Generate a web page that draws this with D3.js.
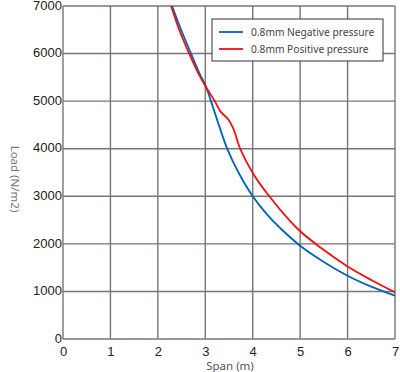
<!DOCTYPE html>
<html>
<head>
<meta charset="utf-8">
<script src="https://cdn.jsdelivr.net/npm/d3@7"></script>
<style>
  body { margin: 0; background: #fff; }
  .tick text { font-family: "Liberation Sans Narrow", "Liberation Sans", Arial, sans-serif; font-stretch: condensed; font-size: 13px; fill: #222; }
  .legend text { font-family: "Noto Sans", sans-serif; font-size: 10.2px; fill: #444; }
</style>
</head>
<body>
<div id="chart"></div>
<script>
// tick values
var xTicks = [0, 1, 2, 3, 4, 5, 6, 7];
var yTicks = [0, 1000, 2000, 3000, 4000, 5000, 6000, 7000];

// 0.8mm negative pressure (blue)
var negSpan = [2.30, 2.49, 2.70, 2.88, 3.02, 3.12, 3.47, 3.70, 4.00, 4.30, 4.60, 5.00, 5.50, 6.00, 6.50, 7.00];
var negLoad = [7000, 6500, 6000, 5580, 5290, 5000, 3980, 3500, 3000, 2620, 2312, 1961, 1620, 1331, 1100, 910];

// 0.8mm positive pressure (red)
var posSpan = [2.28, 2.45, 2.66, 2.85, 3.02, 3.20, 3.32, 3.49, 3.60, 3.74, 4.00, 4.35, 4.95, 5.50, 6.00, 6.50, 7.00];
var posLoad = [7000, 6500, 6000, 5590, 5290, 5000, 4785, 4610, 4400, 3990, 3490, 3000, 2312, 1870, 1526, 1240, 980];

var seriesNames = ["0.8mm Negative pressure", "0.8mm Positive pressure"];
var seriesColors = ["#0062bd", "#ee1111"];

var svgWidth = 400, svgHeight = 372;
var margin = { top: 6, right: 5, bottom: 33, left: 63 };
var width = svgWidth - margin.left - margin.right;
var height = svgHeight - margin.top - margin.bottom;

var svg = d3.select("#chart").append("svg")
    .attr("width", svgWidth)
    .attr("height", svgHeight);

var g = svg.append("g")
    .attr("transform", `translate(${margin.left}, ${margin.top})`);

var x = d3.scaleLinear().domain([0, 7]).range([0, width]);
var y = d3.scaleLinear().domain([0, 7000]).range([height, 0]);

// grid
g.append("g").selectAll("line")
    .data(xTicks).enter().append("line")
    .attr("x1", d => x(d)).attr("x2", d => x(d))
    .attr("y1", 0).attr("y2", height)
    .attr("stroke", "#7a7474").attr("stroke-width", 1.4);
g.append("g").selectAll("line")
    .data(yTicks).enter().append("line")
    .attr("y1", d => y(d)).attr("y2", d => y(d))
    .attr("x1", 0).attr("x2", width)
    .attr("stroke", "#7a7474").attr("stroke-width", 1.4);

// axes
var xAxis = g.append("g")
    .attr("transform", `translate(0, ${height})`)
    .call(d3.axisBottom(x).tickValues(xTicks).tickFormat(d3.format("d")).tickSize(0).tickPadding(8));
var yAxis = g.append("g")
    .call(d3.axisLeft(y).tickValues(yTicks).tickFormat(d3.format("d")).tickSize(0).tickPadding(1));
xAxis.select(".domain").remove();
yAxis.select(".domain").remove();
yAxis.selectAll(".tick text").attr("dy", "0.25em");

// curves
var line = d3.line()
    .x(d => x(d[0]))
    .y(d => y(d[1]))
    .curve(d3.curveCatmullRom.alpha(0.5));

var series = [d3.zip(negSpan, negLoad), d3.zip(posSpan, posLoad)];

g.append("g").selectAll("path")
    .data(series).enter().append("path")
    .attr("d", line)
    .attr("fill", "none")
    .attr("stroke", (d, i) => seriesColors[i])
    .attr("stroke-width", 1.8);

// axis labels
svg.append("text")
    .attr("x", 230).attr("y", 370)
    .attr("text-anchor", "middle")
    .style("font-family", "Noto Sans, sans-serif")
    .style("font-size", "11.5px")
    .style("fill", "#555")
    .text("Span (m)");

svg.append("text")
    .attr("transform", "translate(11, 179) rotate(90)")
    .attr("text-anchor", "middle")
    .style("font-family", "Noto Sans, sans-serif")
    .style("font-size", "11.5px")
    .style("fill", "#777")
    .text("Load (N/m2)");

// legend
var legend = svg.append("g").attr("class", "legend");
legend.append("rect")
    .attr("x", 212).attr("y", 19)
    .attr("width", 171).attr("height", 42)
    .attr("fill", "#fff")
    .attr("stroke", "#333").attr("stroke-width", 1);
seriesNames.forEach(function (name, i) {
    var ly = 32 + i * 17;
    legend.append("line")
        .attr("x1", 219).attr("x2", 243)
        .attr("y1", ly).attr("y2", ly)
        .attr("stroke", seriesColors[i]).attr("stroke-width", 1.8);
    legend.append("text")
        .attr("x", 251).attr("y", ly + 4)
        .text(name);
});
</script>
</body>
</html>
